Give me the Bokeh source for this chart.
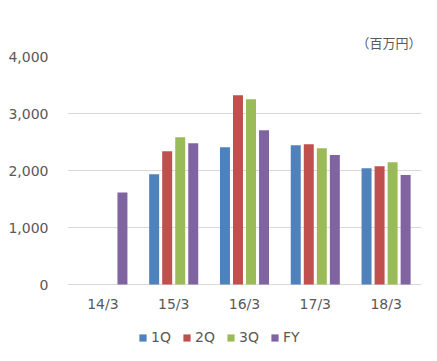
from bokeh.plotting import figure
from bokeh.models import ColumnDataSource, FactorRange, Range1d, Legend, LegendItem, Title, NumeralTickFormatter, FixedTicker
from bokeh.transform import dodge
from bokeh.embed import file_html
from bokeh.resources import INLINE

categories = ["14/3", "15/3", "16/3", "17/3", "18/3"]
q1 = [float("nan"), 1935, 2410, 2445, 2040]
q2 = [float("nan"), 2340, 3320, 2460, 2075]
q3 = [float("nan"), 2585, 3250, 2390, 2145]
fy = [1615, 2480, 2705, 2270, 1920]
series_names = ["1Q", "2Q", "3Q", "FY"]
colors = ["#4F81BD", "#C0504D", "#9BBB59", "#8064A2"]
y_ticks = [0, 1000, 2000, 3000, 4000]
unit_label = "（百万円）"

src = ColumnDataSource(dict(cat=categories, q1=q1, q2=q2, q3=q3, fy=fy))

H = 353
p = figure(x_range=FactorRange(factors=categories, range_padding=0),
           y_range=Range1d(-1210, 4000),
           x_axis_location=None,
           width=429, height=H, output_backend="svg", toolbar_location=None,
           min_border_left=67, min_border_right=8, min_border_top=56, min_border_bottom=0)
p.outline_line_color = None
p.background_fill_color = "white"

offsets = [-0.276, -0.092, 0.092, 0.276]
keys = ["q1", "q2", "q3", "fy"]
renderers = []
for k, off, c in zip(keys, offsets, colors):
    r = p.vbar(x=dodge("cat", off, range=p.x_range), top=k, bottom=0, width=0.141,
               source=src, fill_color=c, line_color=None)
    renderers.append(r)

font = "DejaVu Sans"
grey = "#595959"

# category labels under the zero line
p.text(x="cat", y=0, text="cat", source=src, y_offset=19, text_align="center",
       text_baseline="middle", text_font_size="14px", text_color=grey,
       text_font={"value": font})

p.yaxis.ticker = FixedTicker(ticks=y_ticks)
p.yaxis.formatter = NumeralTickFormatter(format="0,0")
p.yaxis.axis_line_color = None
p.yaxis.major_tick_line_color = None
p.yaxis.minor_tick_line_color = None
p.yaxis.major_label_standoff = 13
p.yaxis.major_label_text_font = font
p.yaxis.major_label_text_font_size = "14px"
p.yaxis.major_label_text_color = grey

p.xgrid.grid_line_color = None
p.ygrid.ticker = FixedTicker(ticks=y_ticks)
p.ygrid.grid_line_color = "#D9D9D9"

t = Title(text=unit_label, align="right", text_font="Noto Sans CJK JP", text_font_size="13px",
          text_font_style="normal", text_color=grey, offset=0)
p.add_layout(t, "above")

legend = Legend(items=[LegendItem(label=n, renderers=[r]) for n, r in zip(series_names, renderers)],
                orientation="horizontal", location=(71, 8),
                glyph_width=9, glyph_height=9, label_standoff=4, spacing=11,
                padding=0, margin=0, border_line_color=None, background_fill_alpha=0,
                label_text_font=font, label_text_font_size="14px", label_text_color=grey,
                label_height=9)
p.add_layout(legend, "center")

open("out.html", "w").write(file_html(p, INLINE))
